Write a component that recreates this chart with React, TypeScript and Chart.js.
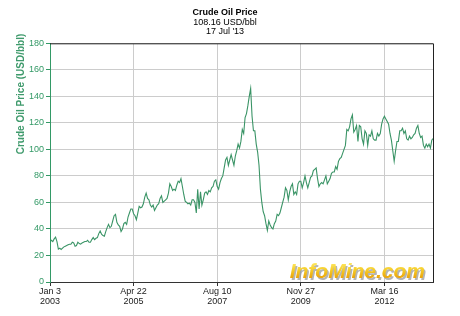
import React, { useEffect, useRef } from "react";
import { Chart, registerables } from "chart.js";

Chart.register(...registerables);

// Brent crude, sampled every 14 days starting Jan 3 2003 (day 0)
const sampleStepDays = 14;
const p2003 = [30.5, 31.5, 30.5, 32.5, 33.8, 30.5, 24.8, 25.5, 24.5, 25.5, 26.5, 27, 27.5, 28, 28.5, 28.5, 30, 29.5, 27, 27.5, 30, 29, 28.5, 29.5, 30, 30.5];
const p2004 = [30.5, 31.5, 30, 30, 32, 33.5, 32, 33, 33.5, 36.5, 38.5, 36, 35, 34.5, 38, 41, 43.5, 41, 42, 46, 50, 51, 45, 43, 42, 38];
const p2005 = [40, 44, 45, 43.5, 49, 52, 55, 55, 51.5, 50, 47, 52, 57, 56, 56.5, 59, 64, 67, 63, 62, 58, 56.5, 58, 54, 56, 58];
const p2006 = [59, 63, 65, 60, 61, 62, 63, 67, 74, 72, 69, 70, 69, 73, 76, 75, 78, 72, 66, 61, 60, 59, 59.5, 58, 62, 62];
const p2007 = [60, 52, 70, 55, 68, 58, 62, 67, 68, 66, 69, 68, 71, 72, 76, 77, 72, 70, 75, 78, 80, 86, 92, 94, 88, 92];
const p2008 = [96, 92, 88, 95, 99, 104, 101, 106, 115, 112, 124, 127, 133, 140, 146, 125, 114, 114, 104, 98, 88, 70, 60, 53, 50, 44];
const p2009 = [39, 46, 43, 41, 40, 44, 46, 51, 50, 52, 56, 60, 64, 71, 69, 62, 68, 72, 74, 66, 68, 66, 74, 76, 76, 71];
const p2010 = [75, 80, 75, 71, 75, 79, 80, 84, 85, 86, 78, 72, 74, 75, 74, 77, 80, 74, 76, 78, 82, 83, 83, 87, 85, 91];
const p2011 = [93, 94, 97, 100, 103, 115, 114, 117, 123, 126, 113, 115, 118, 106, 118, 117, 108, 104, 114, 112, 103, 111, 110, 114, 108, 107];
const p2012 = [107, 112, 110, 112, 119, 123, 125, 123, 121, 119, 112, 107, 99, 91, 99, 106, 106, 114, 114, 116, 112, 114, 108, 107, 110, 108];
const p2013 = [109, 111, 112, 116, 118, 112, 109, 110, 103, 101, 104, 102, 104, 101, 107];
const lastDay = 3848; // Jul 17 2013
const lastPrice = 108.16;

const tickDays = [0, 840, 1680, 2520, 3360];
const tickLabels = [
  ["Jan 3", "2003"],
  ["Apr 22", "2005"],
  ["Aug 10", "2007"],
  ["Nov 27", "2009"],
  ["Mar 16", "2012"],
];

const titleText = "Crude Oil Price";
const subtitleLines = ["108.16 USD/bbl", "17 Jul '13"];
const yAxisTitle = "Crude Oil Price (USD/bbl)";
const watermark = "InfoMine.com";

const FONT = "'Liberation Sans', Arial, sans-serif";
const GREEN = "#339966";

export default function App() {
  const ref = useRef<HTMLCanvasElement | null>(null);

  useEffect(() => {
    document.body.style.margin = "0";
    const all = [...p2003, ...p2004, ...p2005, ...p2006, ...p2007, ...p2008, ...p2009, ...p2010, ...p2011, ...p2012, ...p2013];
    const points = all.map((v, i) => ({ x: i * sampleStepDays, y: v }));
    points.push({ x: lastDay, y: lastPrice });

    const extras = {
      id: "extras",
      afterDraw(chart: any) {
        const { ctx, chartArea } = chart;
        ctx.save();
        // top and right border
        ctx.strokeStyle = "#222";
        ctx.lineWidth = 1;
        ctx.beginPath();
        ctx.moveTo(chartArea.left, chartArea.top + 0.5);
        ctx.lineTo(chartArea.right + 0.5, chartArea.top + 0.5);
        ctx.lineTo(chartArea.right + 0.5, chartArea.bottom);
        ctx.stroke();
        // y-axis title
        ctx.translate(21.5, 94);
        ctx.rotate(-Math.PI / 2);
        ctx.font = "bold 10px " + FONT;
        ctx.fillStyle = "#3f9a6c";
        ctx.textAlign = "center";
        ctx.textBaseline = "middle";
        ctx.fillText(yAxisTitle, 0, 0);
        ctx.restore();

        // watermark
        ctx.save();
        ctx.font = "italic bold 21px " + FONT;
        ctx.textAlign = "right";
        ctx.textBaseline = "alphabetic";
        const xR = chartArea.right - 8;
        const yB = chartArea.bottom - 4;
        ctx.fillStyle = "rgba(130,130,130,0.6)";
        ctx.fillText(watermark, xR + 1.5, yB + 1.5);
        const g = ctx.createLinearGradient(0, yB - 16, 0, yB);
        g.addColorStop(0, "#ffec6a");
        g.addColorStop(0.5, "#f5cc2a");
        g.addColorStop(1, "#eba30a");
        ctx.fillStyle = g;
        ctx.fillText(watermark, xR, yB);
        ctx.restore();
      },
    };

    const chart = new Chart(ref.current as HTMLCanvasElement, {
      type: "line",
      data: {
        datasets: [
          {
            data: points,
            borderColor: "#3a9466",
            borderWidth: 1.1,
            pointRadius: 0,
            tension: 0,
            fill: false,
          },
        ],
      },
      options: {
        animation: false,
        responsive: false,
        maintainAspectRatio: false,
        layout: { padding: { left: 0, right: 10, top: 0, bottom: 0 } },
        plugins: {
          legend: { display: false },
          tooltip: { enabled: false },
          title: {
            display: true,
            text: titleText,
            color: "#000",
            font: { family: FONT, size: 9, weight: "bold", lineHeight: 1.2 },
            padding: { top: 7, bottom: 0 },
          },
          subtitle: {
            display: true,
            text: subtitleLines,
            color: "#000",
            font: { family: FONT, size: 9, weight: "normal", lineHeight: 1.05 },
            padding: { top: 0, bottom: 6.6 },
          },
        },
        scales: {
          x: {
            type: "linear",
            min: 0,
            max: lastDay,
            afterBuildTicks: (scale: any) => {
              scale.ticks = tickDays.map((v) => ({ value: v }));
            },
            afterFit: (scale: any) => {
              scale.height = 34;
            },
            ticks: {
              autoSkip: false,
              maxRotation: 0,
              color: "#222",
              font: { family: FONT, size: 9, lineHeight: 1.1 },
              padding: 1,
              callback: (v: any) => {
                const i = tickDays.indexOf(Number(v));
                return i >= 0 ? tickLabels[i] : "";
              },
            },
            grid: { color: "#cccccc", tickColor: "#333", tickLength: 4, lineWidth: 1 },
            border: { color: "#333", width: 1 },
          },
          y: {
            min: 0,
            max: 180,
            afterFit: (scale: any) => {
              scale.width = 50;
            },
            ticks: {
              stepSize: 20,
              color: GREEN,
              font: { family: FONT, size: 9 },
              padding: 2,
            },
            grid: { color: "#cccccc", tickColor: GREEN, tickLength: 4, lineWidth: 1 },
            border: { color: GREEN, width: 1 },
          },
          yRight: {
            type: "linear",
            position: "right",
            min: 0,
            max: 180,
            afterFit: (scale: any) => {
              scale.width = 17;
            },
            ticks: { display: false },
            grid: { display: false, drawTicks: false },
            border: { display: false },
          },
        },
      },
      plugins: [extras],
    });
    return () => chart.destroy();
  }, []);

  return (
    <div style={{ position: "fixed", left: 0, top: 0, width: 460, height: 316, background: "#fff" }}>
      <canvas ref={ref} width={460} height={316} style={{ display: "block" }} />
    </div>
  );
}
